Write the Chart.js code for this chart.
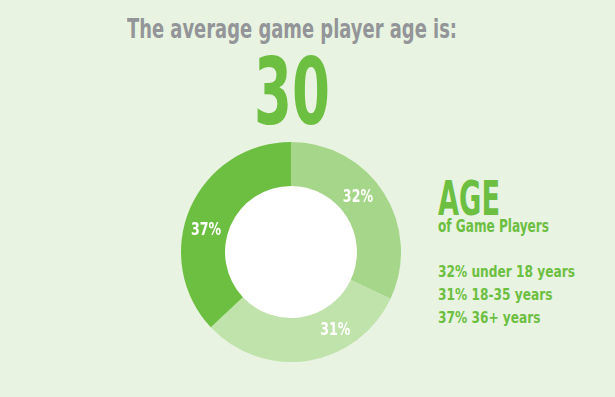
<!DOCTYPE html>
<html>
<head>
<meta charset="utf-8">
<script src="https://cdn.jsdelivr.net/npm/chart.js@4"></script>
<style>
  html, body { margin: 0; padding: 0; }
  body { width: 615px; height: 397px; background: #e8f3e1; position: relative; overflow: hidden;
         font-family: "DejaVu Sans", sans-serif; font-weight: bold; }
  .t { position: absolute; white-space: nowrap; line-height: 1; transform-origin: left top; }
  #title { left: 127px; top: 15px; font-size: 27px; color: #939598; }
  #big { left: 254px; top: 46px; font-size: 93px; color: #6dbf42; }
  #age { left: 438px; top: 179px; font-size: 48px; line-height: 0.8; color: #6dbf42; }
  #sub { left: 438px; top: 220px; font-size: 17px; line-height: 0.8; color: #6dbf42; }
  #legend { left: 438px; top: 260px; font-size: 16px; color: #6dbf42; line-height: 23px; }
  #wrap { position: absolute; left: 181px; top: 142px; width: 220px; height: 220px; }
</style>
</head>
<body>
<div class="t" id="title">The average game player age is:</div>
<div class="t" id="big">30</div>
<div class="t" id="age">AGE</div>
<div class="t" id="sub">of Game Players</div>
<div class="t" id="legend"></div>
<div id="wrap"><canvas id="chartAge"></canvas></div>
<script>
const ageGroups = ["under 18 years", "18-35 years", "36+ years"];
const agePercents = [32, 31, 37];
const ageColors = ["#a6d68a", "#c0e2ab", "#6dbf42"];

const el = (id) => document.getElementById(id);

el("legend").innerHTML = ageGroups
    .map((g, i) => `${agePercents[i]}% ${g}`)
    .join("<br>");

// the original uses a very condensed face, squeeze DejaVu to the same widths
const squeeze = (id, width) => {
    const node = el(id);
    const w = node.getBoundingClientRect().width;
    node.style.transform = `scaleX(${width / w})`;
};
squeeze("title", 330);
squeeze("big", 76);
squeeze("age", 62);
squeeze("sub", 111);
squeeze("legend", 137);

// labels sit a bit before the middle of each arc, like the original
const labelFrac = [0.43, 0.31, 0.44];

const arcLabels = {
    id: "arcLabels",
    afterDatasetsDraw(chart) {
        const ctx = chart.ctx;
        const meta = chart.getDatasetMeta(0);
        meta.data.forEach((arc, i) => {
            const a = arc.startAngle + (arc.endAngle - arc.startAngle) * labelFrac[i];
            const r = (arc.innerRadius + arc.outerRadius) / 2;
            ctx.save();
            ctx.translate(arc.x + Math.cos(a) * r, arc.y + Math.sin(a) * r + 2);
            ctx.scale(0.7, 1);
            ctx.fillStyle = "#ffffff";
            ctx.font = 'bold 18px "DejaVu Sans", sans-serif';
            ctx.textAlign = "center";
            ctx.textBaseline = "middle";
            ctx.fillText(agePercents[i] + "%", 0, 0);
            ctx.restore();
        });
    }
};

const centerFill = {
    id: "centerFill",
    beforeDatasetsDraw(chart) {
        const arc = chart.getDatasetMeta(0).data[0];
        const ctx = chart.ctx;
        ctx.save();
        ctx.fillStyle = "#ffffff";
        ctx.beginPath();
        ctx.arc(arc.x, arc.y, arc.innerRadius, 0, Math.PI * 2);
        ctx.fill();
        ctx.restore();
    }
};

new Chart(el("chartAge").getContext("2d"), {
    type: "doughnut",
    data: {
        labels: ageGroups,
        datasets: [{
            data: agePercents,
            backgroundColor: ageColors,
            borderWidth: 0,
        }],
    },
    options: {
        responsive: true,
        maintainAspectRatio: false,
        animation: false,
        cutout: "60%",
        layout: { padding: 0 },
        plugins: { legend: { display: false }, tooltip: { enabled: false } },
    },
    plugins: [centerFill, arcLabels],
});
</script>
</body>
</html>
